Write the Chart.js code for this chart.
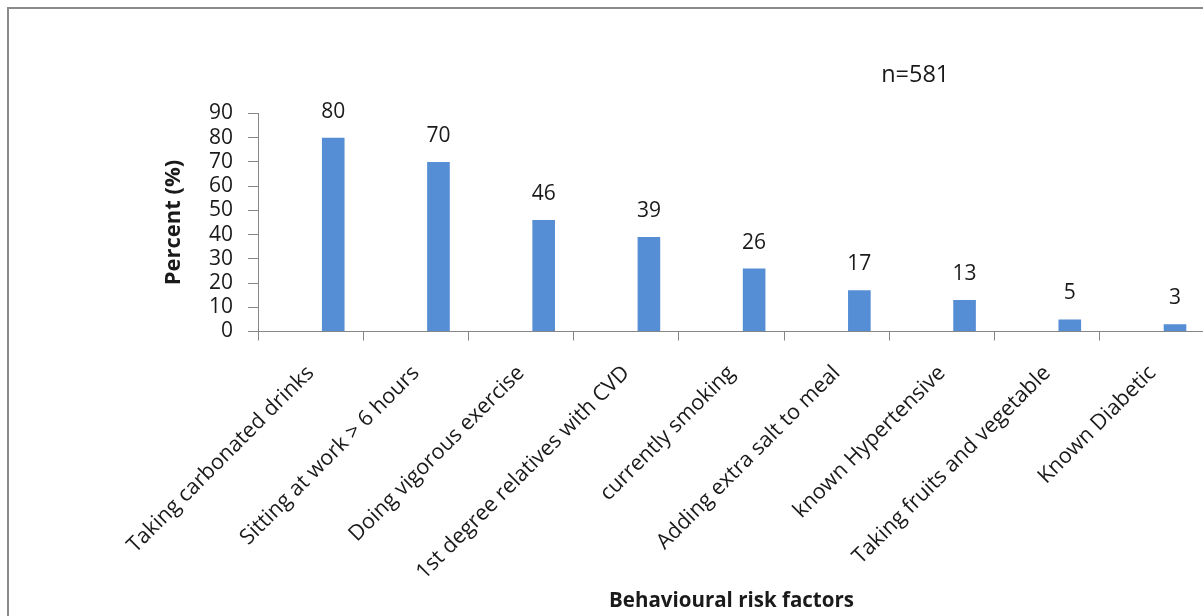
<!DOCTYPE html>
<html>
<head>
<meta charset="utf-8">
<script src="https://cdn.jsdelivr.net/npm/chart.js@4.4.1/dist/chart.umd.min.js"></script>
<style>
  html, body { margin: 0; padding: 0; background: #fff; overflow: hidden; width: 1203px; height: 616px; }
  #frame { position: absolute; left: 7px; top: 7px; width: 1300px; height: 700px; border: 2px solid #8a8a8a; box-sizing: border-box; }
  #chart { position: absolute; left: 0; top: 0; }
</style>
</head>
<body>
<div id="frame"></div>
<canvas id="chart" width="1215" height="616"></canvas>
<script>
// Behavioural risk factors among respondents, percent
const categories = [
  'Taking carbonated drinks',
  'Sitting at work > 6 hours',
  'Doing vigorous exercise',
  '1st degree relatives with CVD',
  'currently smoking',
  'Adding extra salt to meal',
  'known Hypertensive',
  'Taking fruits and vegetable',
  'Known Diabetic'
];
const percentValues = [80, 70, 46, 39, 26, 17, 13, 5, 3];
// two unused series hold the first slots of each cluster
const emptySeriesA = categories.map(() => null);
const emptySeriesB = categories.map(() => null);
const yMin = 0;
const yMax = 90;
const yStep = 10;
const sampleNote = 'n=581';

const FONT = '"Open Sans", "Liberation Sans", sans-serif';
const AXIS_GREY = '#868686';
const TEXT = '#1a1a1a';

// value labels above each bar
const valueLabels = {
  id: 'valueLabels',
  afterDatasetsDraw(chart) {
    const ctx = chart.ctx;
    ctx.save();
    ctx.font = '21px ' + FONT;
    ctx.fillStyle = TEXT;
    ctx.textAlign = 'center';
    ctx.textBaseline = 'middle';
    chart.data.datasets.forEach((ds, di) => {
      const meta = chart.getDatasetMeta(di);
      meta.data.forEach((bar, i) => {
        const v = ds.data[i];
        if (v === null || v === undefined) return;
        ctx.fillText(String(v), bar.x, bar.y - 26);
      });
    });
    ctx.restore();
  }
};

// sample size note above the plot, right of centre
const noteText = {
  id: 'noteText',
  afterDraw(chart) {
    const a = chart.chartArea;
    const ctx = chart.ctx;
    ctx.save();
    ctx.font = '23.5px ' + FONT;
    ctx.fillStyle = TEXT;
    ctx.textAlign = 'center';
    ctx.textBaseline = 'middle';
    ctx.fillText(sampleNote, a.left + (a.right - a.left) * 0.694, a.top - 38);
    ctx.restore();
  }
};

new Chart(document.getElementById('chart'), {
  type: 'bar',
  data: {
    labels: categories,
    datasets: [
      { label: 'a', data: emptySeriesA, backgroundColor: '#558ED5' },
      { label: 'b', data: emptySeriesB, backgroundColor: '#558ED5' },
      { label: 'Percent', data: percentValues, backgroundColor: '#558ED5' }
    ]
  },
  options: {
    responsive: false,
    animation: false,
    devicePixelRatio: 1,
    datasets: { bar: { categoryPercentage: 0.645, barPercentage: 1.0 } },
    layout: { padding: { left: 157, top: 113.5, right: 10, bottom: 0 } },
    plugins: { legend: { display: false }, tooltip: { enabled: false } },
    scales: {
      x: {
        offset: true,
        grid: { offset: true, drawOnChartArea: false, tickLength: 9, color: AXIS_GREY, lineWidth: 1 },
        border: { color: AXIS_GREY, width: 1 },
        ticks: { minRotation: 45, maxRotation: 45, autoSkip: false, padding: 20, color: TEXT, font: { family: FONT, size: 21.5 } },
        title: { display: true, text: 'Behavioural risk factors', color: TEXT, font: { family: FONT, size: 20.5, weight: 'bold' }, padding: { top: 0, bottom: 3 } },
        afterFit(scale) { scale.height = 616 - 331.5; }
      },
      y: {
        min: yMin,
        max: yMax,
        grid: { drawOnChartArea: false, drawTicks: true, tickLength: 10, color: AXIS_GREY, lineWidth: 1 },
        border: { color: AXIS_GREY, width: 1 },
        ticks: { stepSize: yStep, autoSkip: false, padding: 15, color: TEXT, font: { family: FONT, size: 21 } },
        title: { display: true, text: 'Percent (%)', color: TEXT, font: { family: FONT, size: 22, weight: 'bold' }, padding: 4 },
        afterFit(scale) { scale.width = 258 - 157; }
      }
    }
  },
  plugins: [valueLabels, noteText]
});
</script>
</body>
</html>
